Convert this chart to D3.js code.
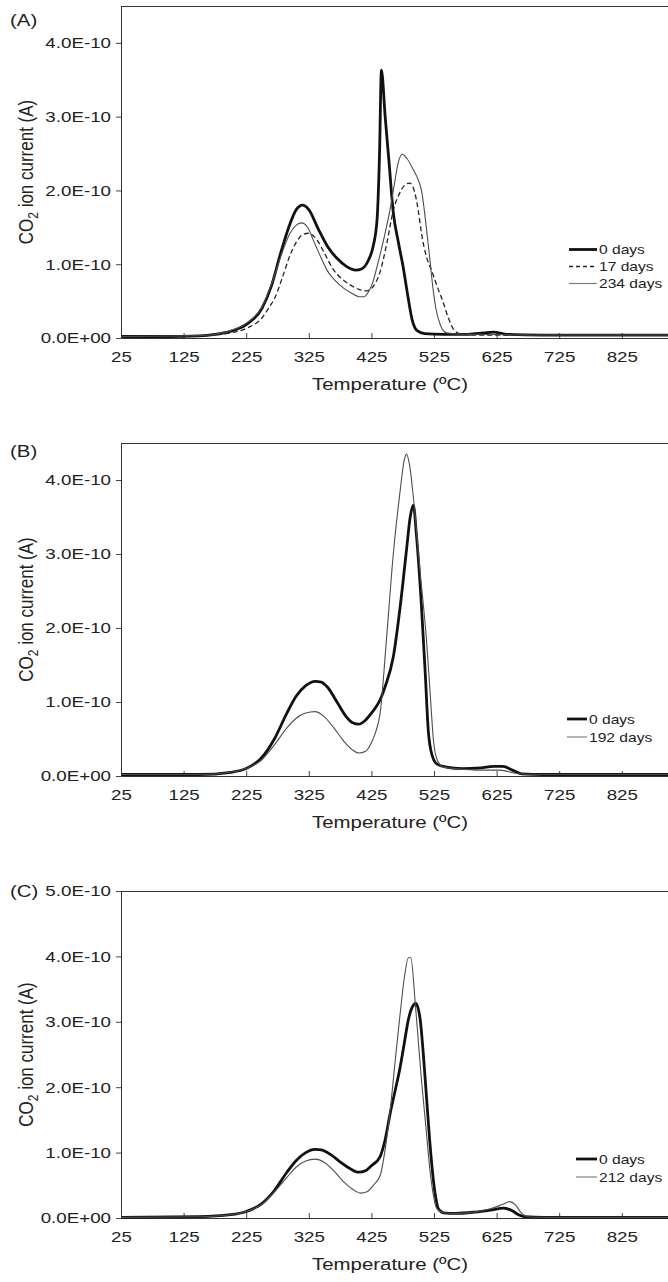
<!DOCTYPE html>
<html>
<head>
<meta charset="utf-8">
<script src="https://cdn.jsdelivr.net/npm/d3@7"></script>
<style>
  body { margin: 0; background: #fff; }
  text { font-family: "Liberation Sans", Arial, sans-serif; fill: #222; }
</style>
</head>
<body>
<script>
// CO2 ion current in units of 1E-10 A, temperature in ºC
const xTicks = [25, 125, 225, 325, 425, 525, 625, 725, 825];
const yTicksAB = [0, 1, 2, 3, 4];
const yTicksC = [0, 1, 2, 3, 4, 5];

const a0days = [[25,0.02],[100,0.02],[150,0.03],[175,0.05],[200,0.09],[225,0.18],[250,0.40],[265,0.70],[280,1.15],[295,1.55],[305,1.74],[315,1.80],[325,1.74],[340,1.48],[355,1.24],[370,1.08],[385,0.97],[400,0.92],[410,0.94],[420,1.05],[428,1.25],[434,1.6],[438,2.5],[441,3.63],[447,3.0],[453,2.4],[460,1.7],[468,1.3],[476,0.95],[483,0.58],[490,0.25],[498,0.1],[510,0.06],[540,0.05],[580,0.05],[605,0.07],[620,0.08],[640,0.05],[700,0.04],[800,0.04],[925,0.04]];
const a17days = [[25,0.02],[150,0.03],[175,0.04],[200,0.07],[225,0.13],[250,0.27],[262,0.42],[271,0.55],[282,0.8],[295,1.12],[305,1.3],[315,1.4],[324,1.42],[338,1.33],[350,1.15],[364,0.93],[378,0.8],[391,0.72],[405,0.66],[418,0.64],[428,0.7],[439,0.9],[450,1.3],[460,1.73],[470,1.96],[478,2.07],[486,2.1],[494,1.98],[500,1.72],[505,1.42],[513,1.1],[521,0.92],[530,0.7],[539,0.5],[548,0.27],[558,0.1],[570,0.05],[600,0.04],[925,0.04]];
const a234days = [[25,0.02],[150,0.03],[175,0.05],[200,0.1],[225,0.2],[250,0.42],[265,0.72],[280,1.1],[295,1.42],[305,1.53],[314,1.56],[325,1.47],[332,1.33],[345,1.08],[354,0.92],[368,0.77],[380,0.68],[395,0.6],[405,0.56],[413,0.56],[420,0.62],[427,0.75],[435,1.0],[445,1.35],[455,1.75],[462,2.1],[468,2.38],[474,2.49],[482,2.43],[492,2.28],[500,2.14],[505,2.0],[510,1.7],[514,1.4],[518,1.1],[523,0.7],[528,0.4],[535,0.18],[545,0.07],[570,0.05],[700,0.04],[925,0.04]];

const b0days = [[25,0.02],[150,0.02],[200,0.05],[225,0.1],[250,0.25],[270,0.5],[290,0.85],[305,1.08],[320,1.22],[335,1.28],[345,1.27],[355,1.2],[370,1.0],[385,0.8],[395,0.72],[405,0.7],[415,0.75],[425,0.85],[439,1.03],[447,1.21],[460,1.61],[471,2.29],[481,3.05],[487,3.5],[492,3.66],[497,3.25],[505,2.29],[511,1.39],[516,0.6],[522,0.28],[530,0.16],[545,0.12],[570,0.1],[600,0.11],[620,0.13],[635,0.13],[650,0.08],[665,0.03],[700,0.02],[925,0.02]];
const b192days = [[25,0.02],[150,0.02],[200,0.05],[225,0.1],[250,0.22],[270,0.42],[290,0.65],[305,0.78],[320,0.85],[335,0.87],[350,0.8],[365,0.65],[380,0.48],[395,0.35],[405,0.31],[415,0.33],[425,0.45],[432,0.6],[439,0.85],[449,1.84],[460,3.0],[471,3.86],[477,4.25],[481,4.35],[486,4.2],[492,3.77],[503,2.74],[513,1.84],[519,1.1],[524,0.49],[530,0.22],[540,0.12],[560,0.1],[600,0.08],[630,0.08],[660,0.03],[700,0.02],[925,0.02]];

const c0days = [[25,0.01],[150,0.02],[200,0.05],[225,0.1],[250,0.22],[270,0.42],[290,0.7],[305,0.88],[320,1.0],[335,1.05],[345,1.04],[360,0.97],[375,0.86],[390,0.76],[405,0.7],[415,0.72],[425,0.8],[439,0.94],[447,1.2],[455,1.6],[463,1.95],[471,2.31],[478,2.7],[484,3.03],[490,3.22],[496,3.28],[503,3.03],[508,2.5],[513,1.85],[518,1.2],[524,0.58],[528,0.3],[532,0.14],[540,0.08],[560,0.07],[590,0.09],[615,0.12],[636,0.15],[650,0.11],[660,0.05],[670,0.02],[700,0.01],[925,0.01]];
const c212days = [[25,0.01],[150,0.02],[200,0.05],[225,0.1],[250,0.21],[270,0.4],[290,0.62],[305,0.78],[320,0.87],[335,0.9],[350,0.85],[365,0.72],[380,0.56],[395,0.44],[408,0.38],[418,0.4],[428,0.5],[439,0.65],[447,1.05],[455,1.65],[463,2.4],[471,3.13],[478,3.7],[484,3.98],[488,3.98],[495,3.29],[500,2.7],[505,2.11],[512,1.4],[519,0.69],[524,0.35],[529,0.15],[540,0.08],[560,0.07],[590,0.09],[615,0.14],[635,0.21],[646,0.25],[655,0.2],[665,0.07],[675,0.02],[700,0.01],[925,0.01]];

const styles = {
  thick: { stroke: '#111', width: 2.8, dash: null },
  dashed: { stroke: '#222', width: 1.3, dash: '5,3' },
  thin: { stroke: '#4d4d4d', width: 1.1, dash: null }
};

const panels = [
  { label: '(A)', labelY: 26, top: 6, bottom: 338, max: 4.5, ticks: yTicksAB,
    series: [ { data: a0days, name: '0 days', style: 'thick' },
              { data: a17days, name: '17 days', style: 'dashed' },
              { data: a234days, name: '234 days', style: 'thin' } ],
    legend: { x1: 569, x2: 597, ys: [249.5, 266.5, 283.5] } },
  { label: '(B)', labelY: 457, top: 443, bottom: 776, max: 4.5, ticks: yTicksAB,
    series: [ { data: b0days, name: '0 days', style: 'thick' },
              { data: b192days, name: '192 days', style: 'thin' } ],
    legend: { x1: 567, x2: 587, ys: [719, 737] } },
  { label: '(C)', labelY: 897, top: 891, bottom: 1218, max: 5, ticks: yTicksC,
    series: [ { data: c0days, name: '0 days', style: 'thick' },
              { data: c212days, name: '212 days', style: 'thin' } ],
    legend: { x1: 576, x2: 597, ys: [1159, 1177] } }
];

const W = 668, H = 1282;
const left = 121;
const svg = d3.select('body').append('svg').attr('width', W).attr('height', H);

const x = d3.scaleLinear().domain([25, 925]).range([left, left + 900 * 0.626]);

// the reference glyphs are wider than normal, so stretch text horizontally
function stretch(sel, k) {
  sel.each(function() {
    const t = d3.select(this);
    const tx = +t.attr('x') || 0, ty = +t.attr('y') || 0;
    t.attr('x', 0).attr('y', 0).attr('transform', `translate(${tx},${ty}) scale(${k},1)`);
  });
}

function fmt(d) {
  return d === 0 ? '0.0E+00' : d.toFixed(1) + 'E-10';
}

panels.forEach(p => {
  const y = d3.scaleLinear().domain([0, p.max]).range([p.bottom, p.top]);
  const g = svg.append('g');

  // y axis
  const ya = g.append('g')
    .attr('transform', `translate(${left},0)`)
    .call(d3.axisLeft(y).tickValues(p.ticks).tickFormat(fmt).tickSizeInner(5).tickSizeOuter(0).tickPadding(5));
  ya.selectAll('text').style('font-size', '15px').style('font-family', null);
  stretch(ya.selectAll('text'), 1.25);

  // x axis, ticks pointing inward
  const xa = g.append('g')
    .attr('transform', `translate(0,${p.bottom})`)
    .call(d3.axisBottom(x).tickValues(xTicks).tickFormat(d3.format('d')).tickSizeInner(-5).tickSizeOuter(0).tickPadding(13));
  xa.selectAll('text').style('font-size', '15px').style('font-family', null);
  stretch(xa.selectAll('text'), 1.25);

  g.selectAll('.domain').attr('stroke', '#333');
  g.selectAll('.tick line').attr('stroke', '#444');

  // top frame line
  g.append('line')
    .attr('x1', left).attr('x2', W)
    .attr('y1', p.top + 0.5).attr('y2', p.top + 0.5)
    .attr('stroke', '#333');

  // curves
  const line = d3.line().x(d => x(d[0])).y(d => y(d[1])).curve(d3.curveMonotoneX);
  p.series.forEach(s => {
    const st = styles[s.style];
    g.append('path')
      .datum(s.data)
      .attr('d', line)
      .attr('fill', 'none')
      .attr('stroke', st.stroke)
      .attr('stroke-width', st.width)
      .attr('stroke-dasharray', st.dash)
      .attr('stroke-linejoin', 'round');
  });

  // legend
  p.series.forEach((s, i) => {
    const st = styles[s.style];
    const ly = p.legend.ys[i];
    g.append('line')
      .attr('x1', p.legend.x1).attr('x2', p.legend.x2)
      .attr('y1', ly).attr('y2', ly)
      .attr('stroke', s.style === 'thin' ? '#777' : st.stroke)
      .attr('stroke-width', st.width)
      .attr('stroke-dasharray', s.style === 'dashed' ? '4,3' : null);
    const t = g.append('text')
      .attr('x', p.legend.x2 + 2).attr('y', ly + 4.5)
      .style('font-size', '13px')
      .text(s.name);
    stretch(t, 1.2);
  });

  // panel label
  stretch(g.append('text').attr('x', 10).attr('y', p.labelY).style('font-size', '17px').text(p.label), 1.2);

  // x axis title
  const xt = g.append('text')
    .attr('x', 390).attr('y', p.bottom + 52)
    .attr('text-anchor', 'middle')
    .style('font-size', '17px')
    .text('Temperature (ºC)');
  stretch(xt, 1.2);

  // y axis title with subscript
  const cy = (p.top + p.bottom) / 2;
  const yt = g.append('text')
    .attr('text-anchor', 'middle')
    .attr('transform', `translate(33,${cy}) scale(1.2,1) rotate(-90)`)
    .style('font-size', '17px');
  yt.append('tspan').text('CO');
  yt.append('tspan').attr('dy', 4).style('font-size', '12px').text('2');
  yt.append('tspan').attr('dy', -4).text(' ion current (A)');
});
</script>
</body>
</html>
